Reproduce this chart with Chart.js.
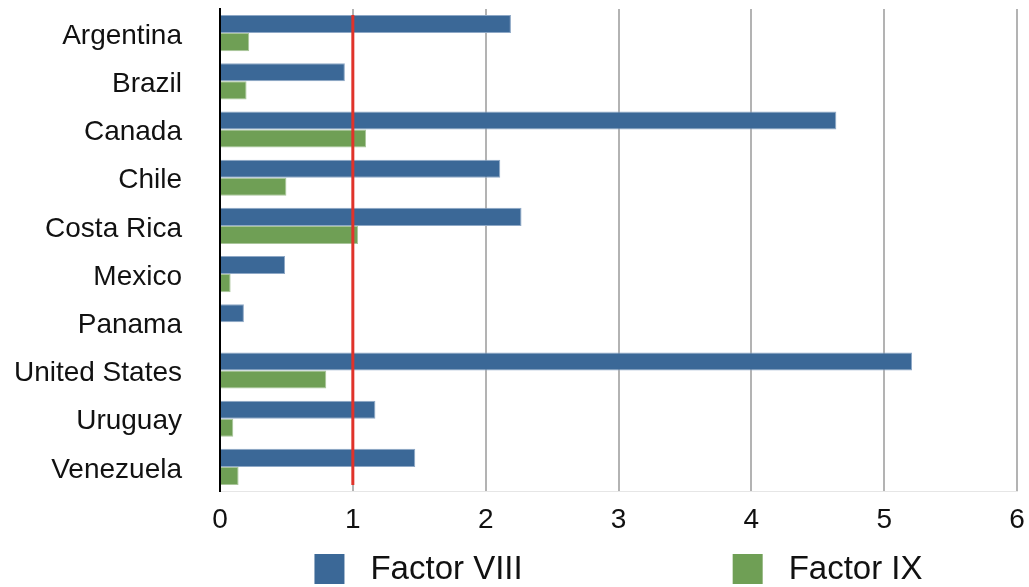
<!DOCTYPE html>
<html>
<head>
<meta charset="utf-8">
<script src="https://cdn.jsdelivr.net/npm/chart.js@4/dist/chart.umd.min.js"></script>
<style>
  html, body { margin: 0; padding: 0; background: #fff; }
  #wrap { width: 1029px; height: 587px; position: relative; }
</style>
</head>
<body>
<div id="wrap"><canvas id="c"></canvas></div>
<script>
// Ratio per country, two clotting factors
const categories = ['Argentina', 'Brazil', 'Canada', 'Chile', 'Costa Rica', 'Mexico', 'Panama', 'United States', 'Uruguay', 'Venezuela'];
const factorVIII = [2.19, 0.94, 4.64, 2.11, 2.27, 0.49, 0.18, 5.21, 1.17, 1.47];
const factorIX   = [0.22, 0.20, 1.10, 0.50, 1.04, 0.08, 0.00, 0.80, 0.10, 0.14];
const seriesNames = ['Factor VIII', 'Factor IX'];
const seriesColors = ['#3b6897', '#6f9f55'];
const seriesEdges = ['#8ea8c6', '#a9c59a'];
const xTickValues = [0, 1, 2, 3, 4, 5, 6];
const referenceLevel = 1;

const FONT = '"Liberation Sans", Arial, Helvetica, sans-serif';

// Vertical red reference line drawn over the bars
const referenceLine = {
  id: 'referenceLine',
  afterDatasetsDraw(chart) {
    const ctx = chart.ctx;
    const x = chart.scales.x.getPixelForValue(referenceLevel);
    const first = chart.getDatasetMeta(0).data[0];
    const lastMeta = chart.getDatasetMeta(1).data;
    const last = lastMeta[lastMeta.length - 1];
    const top = first.y - first.height / 2;
    const bottom = last.y + last.height / 2;
    ctx.save();
    ctx.strokeStyle = '#e0332a';
    ctx.lineWidth = 3;
    ctx.beginPath();
    ctx.moveTo(x, top);
    ctx.lineTo(x, bottom);
    ctx.stroke();
    ctx.restore();
  }
};

// Legend centred under the plot area with a wide gap between entries
const bottomLegend = {
  id: 'bottomLegend',
  afterDraw(chart) {
    const ctx = chart.ctx;
    const area = chart.chartArea;
    const box = 30, textGap = 26, itemGap = 210;
    ctx.save();
    ctx.font = '33px ' + FONT;
    const items = chart.data.datasets.map(ds => ({
      label: ds.label,
      color: ds.backgroundColor,
      w: box + textGap + ctx.measureText(ds.label).width
    }));
    const total = items.reduce((s, it) => s + it.w, 0) + itemGap * (items.length - 1);
    let x = (area.left + area.right) / 2 - total / 2;
    const cy = 569;
    items.forEach(it => {
      ctx.fillStyle = it.color;
      ctx.fillRect(x, cy - box / 2, box, box);
      ctx.fillStyle = '#111';
      ctx.textBaseline = 'middle';
      ctx.textAlign = 'left';
      ctx.fillText(it.label, x + box + textGap, cy + 1);
      x += it.w + itemGap;
    });
    ctx.restore();
  }
};

new Chart(document.getElementById('c'), {
  type: 'bar',
  data: {
    labels: categories,
    datasets: [
      { label: seriesNames[0], data: factorVIII, backgroundColor: seriesColors[0], borderColor: seriesEdges[0], borderWidth: 1 },
      { label: seriesNames[1], data: factorIX, backgroundColor: seriesColors[1], borderColor: seriesEdges[1], borderWidth: 1 }
    ]
  },
  options: {
    indexAxis: 'y',
    responsive: true,
    maintainAspectRatio: false,
    animation: false,
    devicePixelRatio: 1,
    layout: { padding: { top: 9, right: 12, bottom: 0, left: 0 } },
    datasets: { bar: { categoryPercentage: 0.75, barPercentage: 1.0 } },
    plugins: { legend: { display: false }, tooltip: { enabled: false } },
    scales: {
      x: {
        type: 'linear',
        min: xTickValues[0],
        max: xTickValues[xTickValues.length - 1],
        afterBuildTicks: s => { s.ticks = xTickValues.map(v => ({ value: v })); },
        afterFit: s => { s.height = 96; s.paddingLeft = 0; s.paddingRight = 0; },
        ticks: { font: { family: FONT, size: 28 }, color: '#111', padding: 12 },
        grid: {
          color: c => (c.tick && c.tick.value === 0 ? '#000' : '#b3b3b3'),
          lineWidth: 2,
          drawTicks: false
        },
        border: { display: true, color: '#e6e6e6', width: 1 }
      },
      y: {
        afterFit: s => { s.width = 220; s.paddingTop = 0; s.paddingBottom = 0; },
        ticks: { font: { family: FONT, size: 28 }, color: '#111', padding: 38, labelOffset: 3 },
        grid: { display: true, color: 'rgba(0,0,0,0)', drawTicks: false },
        border: { display: true, color: '#000', width: 2 }
      }
    }
  },
  plugins: [referenceLine, bottomLegend]
});
</script>
</body>
</html>
